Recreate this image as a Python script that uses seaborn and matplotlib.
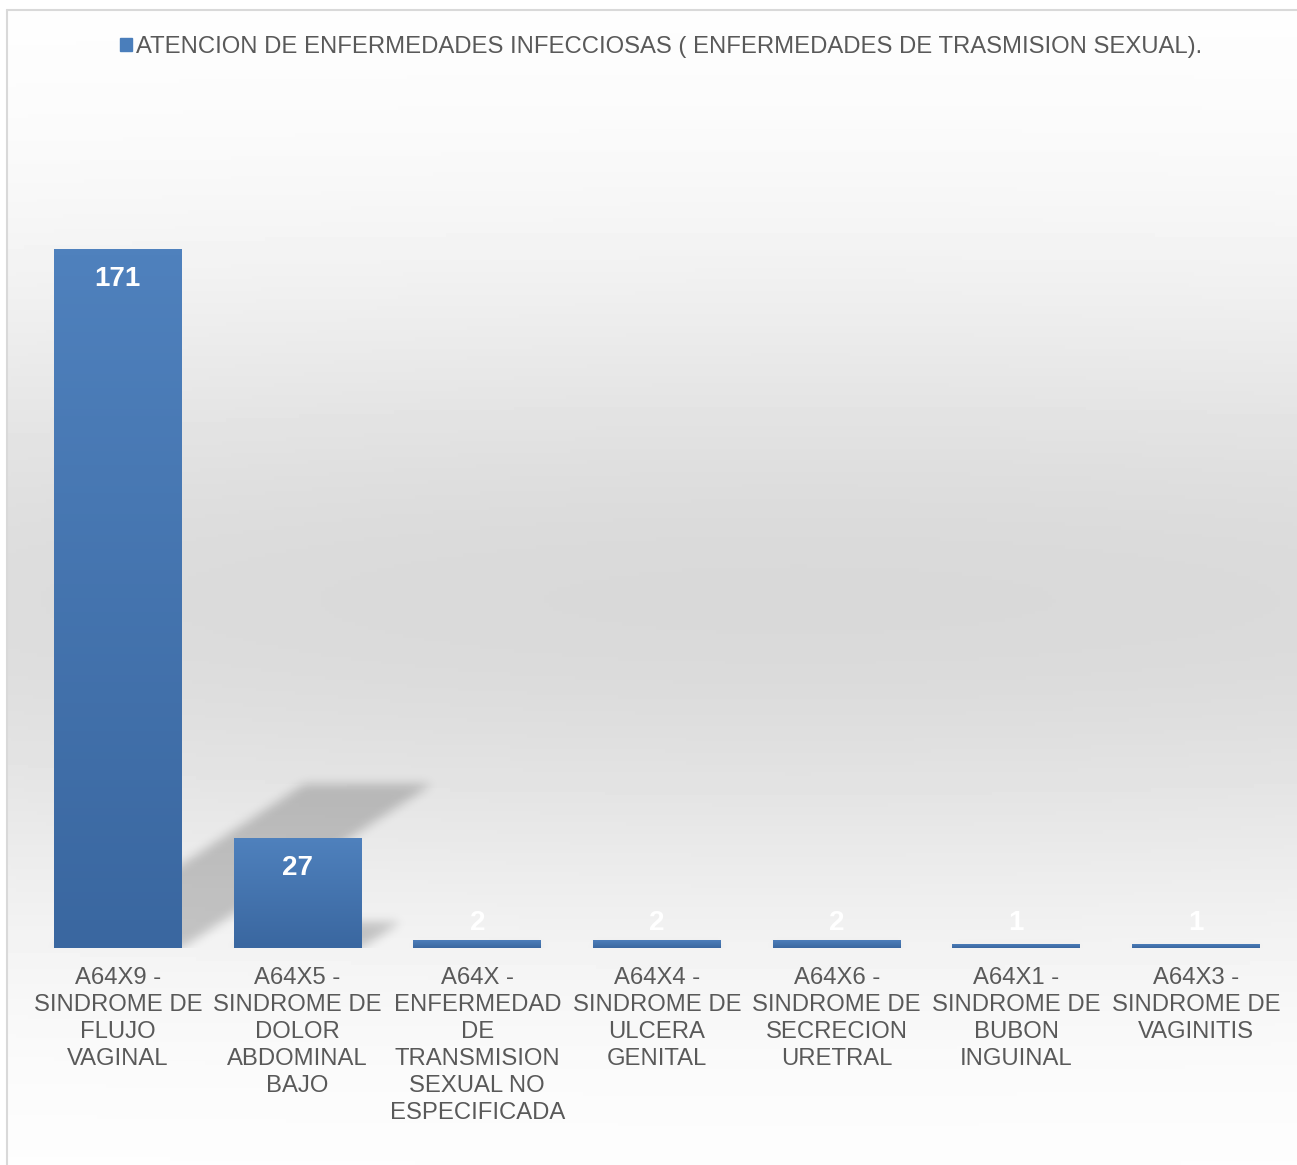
import numpy as np
import matplotlib.pyplot as plt
import seaborn as sns
from matplotlib.patches import Rectangle
from matplotlib.colors import LinearSegmentedColormap

categories = ['A64X9', 'A64X5', 'A64X', 'A64X4', 'A64X6', 'A64X1', 'A64X3']
values = [171, 27, 2, 2, 2, 1, 1]
tick_labels = [
    'A64X9 -\nSINDROME DE\nFLUJO\nVAGINAL',
    'A64X5 -\nSINDROME DE\nDOLOR\nABDOMINAL\nBAJO',
    'A64X -\nENFERMEDAD\nDE\nTRANSMISION\nSEXUAL NO\nESPECIFICADA',
    'A64X4 -\nSINDROME DE\nULCERA\nGENITAL',
    'A64X6 -\nSINDROME DE\nSECRECION\nURETRAL',
    'A64X1 -\nSINDROME DE\nBUBON\nINGUINAL',
    'A64X3 -\nSINDROME DE\nVAGINITIS',
]
series_name = 'ATENCION DE ENFERMEDADES INFECCIOSAS ( ENFERMEDADES DE TRASMISION SEXUAL).'

sns.set_theme(style='white')
plt.rcParams['font.family'] = ['Liberation Sans', 'DejaVu Sans']

W, H = 1297, 1165
fig = plt.figure(figsize=(W / 100, H / 100), dpi=100)

# background gradient (Excel style)
bg = fig.add_axes([0, 0, 1, 1], zorder=0)
bg.axis('off')
xx, yy = np.meshgrid(np.linspace(7, W, 300), np.linspace(10, H, 300))
shade = 1 - 0.15 * np.exp(-((yy - 600) / 330) ** 2 - ((xx - 800) / 2500) ** 2)
bg.imshow(shade, extent=[7, W, H, 10], cmap='gray', vmin=0, vmax=1, aspect='auto')
bg.plot([7, W], [10, 10], color='#d9d9d9', lw=1.5)
bg.plot([7, 7], [10, H], color='#d9d9d9', lw=1.5)
bg.set_xlim(0, W)
bg.set_ylim(H, 0)

ax = fig.add_axes([28 / W, (H - 948) / H, (1286 - 28) / W, (948 - 130) / H], zorder=1)
ax.set_facecolor('none')
sns.barplot(x=categories, y=values, color='#4a7ebb', width=0.712, ax=ax,
            label=series_name, zorder=3, linewidth=0, edgecolor='none')
xlim = (-0.5, len(categories) - 0.5)
ylim = (0, 200)

# soft perspective shadows, blurred mask in data space
nx, ny = 1258, 818
gx, gy = np.meshgrid(np.linspace(*xlim, nx), np.linspace(*ylim, ny))
mask = np.zeros_like(gx)
for patch, v in zip(ax.patches, values):
    x0, w = patch.get_x(), patch.get_width()
    s = 0.00814 * v
    r = 0.234 * v
    t = np.clip(gy / r, 0, None)
    inside = (gy <= r) & (gx >= x0 + s * t) & (gx <= x0 + w + s * t)
    mask[inside] = 1.0
k = np.exp(-0.5 * (np.arange(-15, 16) / 5.0) ** 2)
k /= k.sum()
mask = np.apply_along_axis(lambda m: np.convolve(m, k, mode='same'), 0, mask)
mask = np.apply_along_axis(lambda m: np.convolve(m, k, mode='same'), 1, mask)
rgba = np.zeros((ny, nx, 4))
rgba[..., 3] = 0.2 * mask
ax.imshow(rgba, extent=[*xlim, *ylim], origin='lower', aspect='auto', zorder=1)

# bar gradients and value labels
grad = np.linspace(0, 1, 100).reshape(-1, 1)
bar_cmap = LinearSegmentedColormap.from_list('bar', ['#3a67a0', '#4f81bd'])
for patch, v in zip(ax.patches, values):
    x0, w = patch.get_x(), patch.get_width()
    im = ax.imshow(grad, extent=[x0, x0 + w, 0, v], origin='lower', cmap=bar_cmap,
                   aspect='auto', zorder=4)
    im.set_clip_path(patch)
    ax.text(x0 + w / 2, max(v - 7.5, 6.2), str(v), color='white',
            fontsize=20, fontweight='bold', ha='center', va='center', zorder=5)

ax.set_xlim(*xlim)
ax.set_ylim(*ylim)
ax.set_yticks([])
ax.set_xticks(range(len(categories)))
ax.set_xticklabels(tick_labels, fontsize=17.2, color='#595959', linespacing=1.29)
ax.tick_params(axis='x', length=0, pad=14)
for sp in ax.spines.values():
    sp.set_visible(False)

handle = Rectangle((0, 0), 1, 1, color='#4a7ebb')
ax.legend([handle], [series_name], loc='center', bbox_to_anchor=(661 / W, 1 - 47 / H),
          bbox_transform=fig.transFigure, frameon=False, fontsize=17.2,
          labelcolor='#595959', handlelength=0.5, handleheight=0.5, handletextpad=0.15)

fig.savefig('out.png', dpi=100)
